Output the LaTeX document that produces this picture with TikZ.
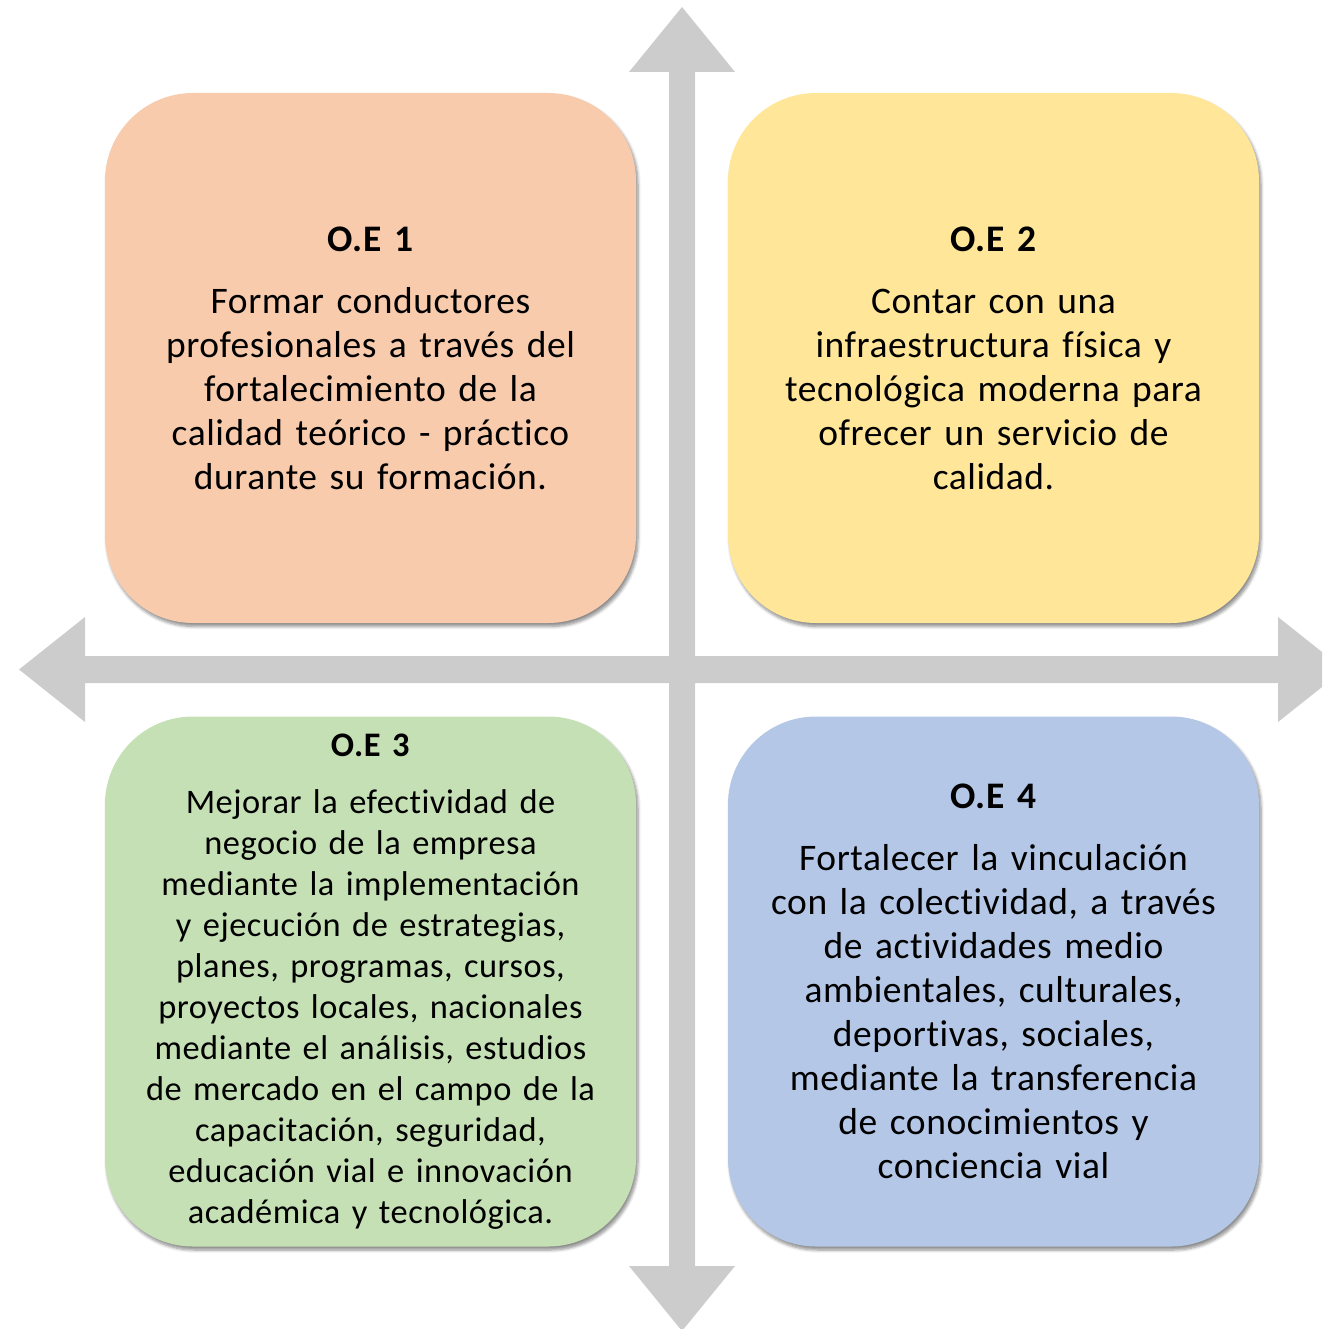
\documentclass[tikz,border=0pt]{standalone}
\usepackage{fontspec}
\setmainfont{Carlito}[Ligatures=NoCommon, LetterSpace=1.5]
\usetikzlibrary{shadows.blur}
\definecolor{cpeach}{HTML}{F8CBAD}
\definecolor{cyellow}{HTML}{FFE699}
\definecolor{cgreen}{HTML}{C5E0B4}
\definecolor{cblue}{HTML}{B4C7E7}
\definecolor{carrow}{HTML}{CCCCCC}
\tikzset{
  oebox/.style={rounded corners=88pt, minimum width=531pt, minimum height=530pt,
    inner sep=0pt, align=center, text width=520pt,
    blur shadow={shadow xshift=2pt, shadow yshift=-3.5pt, shadow blur steps=6,
      shadow blur radius=3pt, shadow opacity=45}},
  bigtext/.style={font=\fontsize{37.5}{44}\selectfont},
  smalltext/.style={font=\fontsize{34.4}{41}\selectfont},
}
\begin{document}
\begin{tikzpicture}[x=1pt,y=-1pt]
\useasboundingbox (0,0) rectangle (1322,1329);
\begin{scope}
\clip (0,0) rectangle (1322,1329);
\fill[carrow] (669,72) -- (629,72) -- (682,7) -- (735,72) -- (695,72) -- (695,656)
  -- (1278,656) -- (1278,617) -- (1344,669.5) -- (1278,722) -- (1278,683)
  -- (695,683) -- (695,1266) -- (735,1266) -- (682,1331) -- (629,1266) -- (669,1266)
  -- (669,683) -- (85,683) -- (85,722) -- (19,669.5) -- (85,617) -- (85,656)
  -- (669,656) -- cycle;
\end{scope}
\node[oebox, fill=cpeach, bigtext] (b1) at (370.5,358)
  {\textbf{O.E 1}\\[18pt]Formar conductores\\profesionales a través del\\fortalecimiento de la\\calidad teórico - práctico\\durante su formación.};
\node[oebox, fill=cyellow, bigtext] (b2) at (993.5,358)
  {\textbf{O.E 2}\\[18pt]Contar con una\\infraestructura física y\\tecnológica moderna para\\ofrecer un servicio de\\calidad.};
\node[oebox, fill=cgreen, smalltext] (b3) at (370.5,981.5)
  {\textbf{O.E 3}\\[16pt]Mejorar la efectividad de\\negocio de la empresa\\mediante la implementación\\y ejecución de estrategias,\\planes, programas, cursos,\\proyectos locales, nacionales\\mediante el análisis, estudios\\de mercado en el campo de la\\capacitación, seguridad,\\educación vial e innovación\\académica y tecnológica.};
\node[oebox, fill=cblue, bigtext] (b4) at (993.5,981.5)
  {\textbf{O.E 4}\\[18pt]Fortalecer la vinculación\\con la colectividad, a través\\de actividades medio\\ambientales, culturales,\\deportivas, sociales,\\mediante la transferencia\\de conocimientos y\\conciencia vial};
\end{tikzpicture}
\end{document}
